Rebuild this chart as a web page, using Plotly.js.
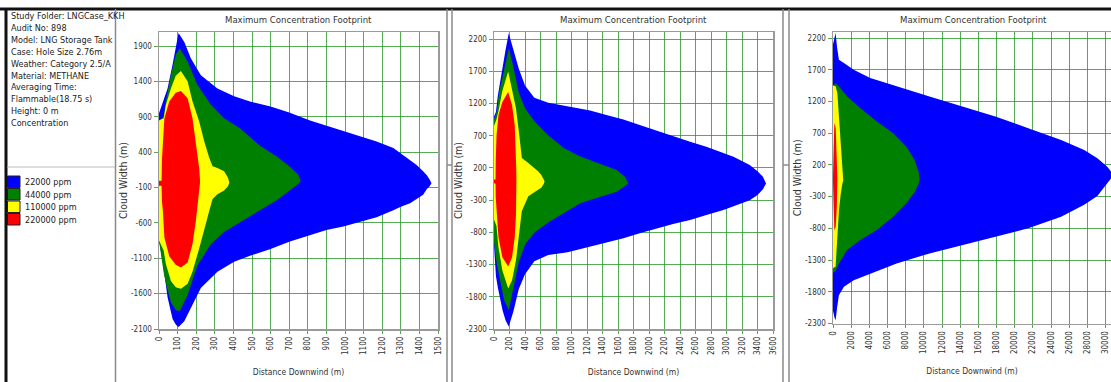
<!DOCTYPE html>
<html><head><meta charset="utf-8">
<script src="https://cdn.plot.ly/plotly-3.0.1.min.js"></script>
<style>html,body{margin:0;padding:0;background:#fff;}#chart{width:1111px;height:382px;}</style>
</head><body><div id="chart"></div>
<script>
// ---------- DATA ----------
const infoLines = ["Study Folder: LNGCase_KKH","Audit No: 898","Model: LNG Storage Tank","Case: Hole Size 2.76m","Weather: Category 2.5/A","Material: METHANE","Averaging Time:","Flammable(18.75 s)","Height: 0 m","Concentration"];
const levelNames = ["22000 ppm","44000 ppm","110000 ppm","220000 ppm"];
const chartTitle = "Maximum Concentration Footprint";
const xTitle = "Distance Downwind (m)";
const yTitle = "Cloud Width (m)";

const p1XTicks = [0,100,200,300,400,500,600,700,800,900,1000,1100,1200,1300,1400,1500];
const p1YTicks = [1900,1400,900,400,-100,-600,-1100,-1600,-2100];
const p2XTicks = [0,200,400,600,800,1000,1200,1400,1600,1800,2000,2200,2400,2600,2800,3000,3200,3400,3600];
const p2YTicks = [2200,1700,1200,700,200,-300,-800,-1300,-1800,-2300];
const p3XTicks = [0,2000,4000,6000,8000,10000,12000,14000,16000,18000,20000,22000,24000,26000,28000,30000];
const p3YTicks = [2200,1700,1200,700,200,-300,-800,-1300,-1800,-2300];

// Panel 1 contours (x, upper edge, lower edge)
const p1BlueX = [0,20,46,73,91,105,136,171,225,314,404,493,600,700,812,900,991,1080,1170,1260,1300,1350,1385,1420,1440,1455,1465];
const p1BlueUp = [950,1100,1300,1640,1910,2085,1960,1730,1490,1300,1190,1115,1045,960,850,775,700,625,550,460,380,290,220,130,75,15,-40];
const p1BlueLo = [-850,-1150,-1650,-1960,-2040,-2070,-1990,-1800,-1520,-1290,-1150,-1060,-970,-865,-770,-700,-650,-590,-520,-420,-370,-320,-265,-200,-120,-80,-40];
const p1GreenX = [0,25,37,64,90,112,154,207,279,350,435,543,633,704,749,762];
const p1GreenUp = [850,900,1120,1490,1780,1870,1680,1350,1070,880,740,490,340,195,80,-10];
const p1GreenLo = [-850,-1300,-1450,-1720,-1830,-1850,-1620,-1200,-900,-730,-590,-420,-280,-140,-50,-10];
const p1YellowX = [0,25,37,64,90,118,154,180,216,243,270,288,314,350,371,378];
const p1YellowUp = [850,880,1070,1300,1480,1550,1400,1120,835,555,320,200,178,130,40,-30];
const p1YellowLo = [-850,-990,-1180,-1420,-1510,-1530,-1460,-1290,-960,-715,-430,-260,-195,-140,-80,-30];
const p1RedX = [0,14,16,21,29,55,90,118,154,180,198,216,221];
const p1RedUp = [-5,-5,300,554,880,1117,1240,1267,1164,882,554,178,-20];
const p1RedLo = [-75,-75,-300,-430,-806,-1070,-1190,-1229,-1158,-900,-572,-150,-20];

// Panel 2 contours
const p2BlueX = [0,25,50,110,150,190,250,320,400,520,700,950,1240,1450,1670,1880,2100,2310,2530,2740,2960,3090,3300,3400,3470,3510];
const p2BlueUp = [1000,1070,1330,1790,2040,2290,2050,1740,1480,1290,1210,1150,1090,1020,950,865,775,684,606,529,430,373,245,150,63,-40];
const p2BlueLo = [-1000,-1480,-1660,-2010,-2170,-2260,-2030,-1680,-1450,-1250,-1150,-1110,-1023,-960,-893,-815,-738,-670,-609,-530,-454,-400,-300,-220,-130,-40];
const p2GreenX = [0,35,67,129,192,254,317,401,527,694,904,1113,1367,1583,1690,1733];
const p2GreenUp = [950,1071,1379,1738,2056,1738,1379,1123,917,712,507,379,271,167,63,-40];
const p2GreenLo = [-950,-1281,-1500,-1850,-2006,-1620,-1270,-990,-800,-650,-500,-350,-250,-170,-80,-40];
const p2YellowX = [0,32,57,108,183,233,284,326,359,443,569,611,644,653];
const p2YellowUp = [850,950,1080,1400,1697,1430,1123,712,353,276,148,90,20,-6];
const p2YellowLo = [-600,-700,-1032,-1391,-1673,-1545,-1230,-800,-468,-240,-140,-109,-40,-6];
const p2RedX = [0,20,22,33,58,108,183,233,267,284,287,289];
const p2RedUp = [20,20,300,712,1020,1225,1379,1174,866,456,200,-10];
const p2RedLo = [-40,-40,-250,-468,-878,-1186,-1329,-1186,-878,-519,-250,-10];

// Panel 3 contours
const p3BlueX = [0,150,290,450,650,1200,2280,4100,7000,10620,14240,17870,21490,25110,27650,29100,30190,30900];
const p3BlueUp = [2100,2200,2280,2050,1857,1805,1700,1568,1436,1278,1120,962,779,594,436,305,172,40];
const p3BlueLo = [-2100,-2200,-2250,-2050,-1853,-1722,-1617,-1511,-1353,-1195,-1064,-933,-800,-617,-430,-290,-90,40];
const p3GreenX = [0,290,652,1565,3011,4826,6631,8087,8989,9457,9533];
const p3GreenUp = [1450,1489,1436,1278,1095,883,700,488,278,68,-37];
const p3GreenLo = [-1500,-1470,-1353,-1143,-985,-827,-617,-405,-230,-90,-37];
const p3YellowX = [0,290,480,650,840,1020,1130,1150];
const p3YellowUp = [1450,1440,1330,960,590,280,30,-20];
const p3YellowLo = [-1430,-1400,-880,-530,-270,-100,-50,-20];
const p3RedX = [0,150,300,420,480];
const p3RedUp = [20,860,780,400,-20];
const p3RedLo = [-60,-830,-780,-450,-20];

// ---------- STYLE ----------
const levelColors = ["#0000ff","#008000","#ffff00","#ff0000"];
const W = 1111, H = 382;
const FONT = "'Liberation Sans Narrow','Arial Narrow','DejaVu Sans Condensed','Liberation Sans',Arial,sans-serif";
const gridCol = "rgba(40,150,40,0.8)";
const fx = p => p / W;
const fy = p => 1 - p / H;

function poly(x, up, lo, color, xa, ya, name) {
  return {
    type: "scatter", mode: "lines", name: name, showlegend: false, hoverinfo: "skip",
    x: x.concat(x.slice().reverse()), y: up.concat(lo.slice().reverse()),
    fill: "toself", fillcolor: color, line: {width: 0, color: color},
    xaxis: xa, yaxis: ya
  };
}
const panels = [
  {xa:"x",  ya:"y",  sets:[[p1BlueX,p1BlueUp,p1BlueLo],[p1GreenX,p1GreenUp,p1GreenLo],[p1YellowX,p1YellowUp,p1YellowLo],[p1RedX,p1RedUp,p1RedLo]]},
  {xa:"x2", ya:"y2", sets:[[p2BlueX,p2BlueUp,p2BlueLo],[p2GreenX,p2GreenUp,p2GreenLo],[p2YellowX,p2YellowUp,p2YellowLo],[p2RedX,p2RedUp,p2RedLo]]},
  {xa:"x3", ya:"y3", sets:[[p3BlueX,p3BlueUp,p3BlueLo],[p3GreenX,p3GreenUp,p3GreenLo],[p3YellowX,p3YellowUp,p3YellowLo],[p3RedX,p3RedUp,p3RedLo]]}
];
const traces = [];
panels.forEach(p => p.sets.forEach((s, i) => traces.push(poly(s[0], s[1], s[2], levelColors[i], p.xa, p.ya, levelNames[i]))));

const tickFont = {family: FONT, size: 8, color: "#333"};
function xAxis(dom, range, ticks, anchor, mirror) {
  return {domain: dom, range: range, anchor: anchor, tickmode: "array", tickvals: ticks, ticktext: ticks.map(String),
    tickangle: -90, tickfont: tickFont, ticks: "outside", ticklen: 3, tickcolor: gridCol, ticklabeloverflow: "allow",
    showgrid: true, gridcolor: gridCol, gridwidth: 1, zeroline: false,
    showline: true, linecolor: "#9a9a9a", linewidth: 1.5, mirror: mirror, automargin: false,
    title: {text: xTitle, font: {family: FONT, size: 8.5, color: "#333"}, standoff: 15}, fixedrange: true};
}
function yAxis(dom, range, ticks, anchor, mirror) {
  return {domain: dom, range: range, anchor: anchor, tickmode: "array", tickvals: ticks, ticktext: ticks.map(String),
    tickfont: tickFont, ticks: "outside", ticklen: 4, tickcolor: gridCol,
    showgrid: true, gridcolor: gridCol, gridwidth: 1, zeroline: false,
    showline: true, linecolor: "#9a9a9a", linewidth: 1.5, mirror: mirror, automargin: false,
    title: {text: yTitle, font: {family: FONT, size: 10.5, color: "#333"}, standoff: 1}, fixedrange: true};
}
const yDom12 = [fy(329), fy(32)];
const yDom3 = [fy(323.5), fy(32)];
const layout = {
  width: W, height: H, margin: {l:0, r:0, t:0, b:0}, paper_bgcolor: "#fff", plot_bgcolor: "#fff",
  showlegend: false,
  xaxis:  xAxis([fx(159), fx(438)], [0, 1500], p1XTicks, "y", true),
  yaxis:  yAxis(yDom12, [-2100, 2100], p1YTicks, "x", true),
  xaxis2: xAxis([fx(494), fx(773)], [0, 3600], p2XTicks, "y2", true),
  yaxis2: yAxis(yDom12, [-2300, 2310], p2YTicks, "x2", true),
  xaxis3: xAxis([fx(833), 1], [0, 30600], p3XTicks, "y3", true),
  yaxis3: yAxis(yDom3, [-2300, 2295], p3YTicks, "x3", false),
  shapes: [], annotations: []
};

// panel titles
[[159,438],[494,773],[833,1113]].forEach(d => {
  layout.annotations.push({xref:"paper", yref:"paper", x: fx((d[0]+d[1])/2), y: fy(20), text: chartTitle,
    showarrow:false, xanchor:"center", yanchor:"middle", font:{family: FONT, size: 9.5, color:"#333"}});
});
// info text
infoLines.forEach((t, i) => {
  layout.annotations.push({xref:"paper", yref:"paper", x: fx(9), y: fy(16 + i*11.9), text: t,
    showarrow:false, xanchor:"left", yanchor:"middle", font:{family: FONT, size: 9, color:"#222"}});
});
// legend swatches
const swTop = [176, 188.5, 201, 213.5];
levelNames.forEach((t, i) => {
  layout.shapes.push({type:"rect", xref:"paper", yref:"paper", x0: fx(7.5), x1: fx(20), y0: fy(swTop[i]), y1: fy(swTop[i]+11.5),
    fillcolor: levelColors[i], line:{color:"#222", width:1}});
  layout.annotations.push({xref:"paper", yref:"paper", x: fx(23), y: fy(swTop[i]+6), text: t,
    showarrow:false, xanchor:"left", yanchor:"middle", font:{family: FONT, size: 9, color:"#222"}});
});
// frame lines
function vline(x, y0, y1, c, w) { layout.shapes.push({type:"line", xref:"paper", yref:"paper", x0:fx(x), x1:fx(x), y0:fy(y0), y1:fy(y1), line:{color:c, width:w}}); }
function hline(y, x0, x1, c, w) { layout.shapes.push({type:"line", xref:"paper", yref:"paper", x0:fx(x0), x1:fx(x1), y0:fy(y), y1:fy(y), line:{color:c, width:w}}); }
hline(9, 0, 1111, "#111", 3);
vline(6, 9, 382, "#111", 3);
vline(115.5, 9, 382, "#8a8a8a", 1.5);
hline(167, 7, 115, "#bbbbbb", 1);
vline(447, 9, 382, "#8a8a8a", 1.5);
vline(452, 9, 382, "#8a8a8a", 1.5);
vline(783, 9, 382, "#8a8a8a", 1.5);
vline(789, 9, 382, "#8a8a8a", 1.5);
hline(165, 447, 452, "#8a8a8a", 1.5);
hline(165, 783, 789, "#8a8a8a", 1.5);

Plotly.newPlot("chart", traces, layout, {displayModeBar: false, staticPlot: true});
</script></body></html>
